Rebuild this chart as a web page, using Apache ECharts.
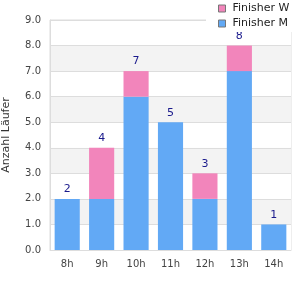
<!DOCTYPE html>
<html>
<head>
<meta charset="utf-8">
<script src="https://cdn.jsdelivr.net/npm/echarts@6/dist/echarts.min.js"></script>
<style>html,body{margin:0;padding:0;background:#fff}#chart{width:300px;height:300px}</style>
</head>
<body>
<div id="chart"></div>
<script>
var hours = ['8h', '9h', '10h', '11h', '12h', '13h', '14h'];
var finisherM = [2, 2, 6, 5, 2, 7, 1];
var finisherW = [0, 2, 1, 0, 1, 1, 0];

var chart = echarts.init(document.getElementById('chart'));

var option = {
    animation: false,
    textStyle: { fontFamily: 'DejaVu Sans' },
    legend: {
        left: 206,
        top: 0,
        orient: 'vertical',
        backgroundColor: '#fff',
        padding: [3, 20, 3, 12],
        itemGap: 4,
        itemWidth: 7,
        itemHeight: 7,
        icon: 'rect',
        itemStyle: { borderColor: '#777', borderWidth: 1 },
        textStyle: { fontSize: 11, color: '#222', fontFamily: 'DejaVu Sans', padding: [0, 0, 0, 2] },
        data: ['Finisher W', 'Finisher M'],
        z: 10
    },
    grid: {
        left: 50,
        right: 9,
        top: 20,
        bottom: 50,
        outerBoundsMode: 'none',
        containLabel: false,
        show: true,
        borderColor: '#ddd',
        borderWidth: 1
    },
    xAxis: {
        type: 'category',
        data: hours,
        axisLine: { lineStyle: { color: '#ddd' } },
        axisTick: { show: false },
        axisLabel: { color: '#444', fontSize: 10, margin: 9 }
    },
    yAxis: {
        type: 'value',
        min: 0,
        max: 9,
        interval: 1,
        name: 'Anzahl Läufer',
        nameLocation: 'middle',
        nameGap: 38,
        nameTextStyle: { color: '#333', fontSize: 11 },
        axisLine: { show: true, lineStyle: { color: '#ddd' } },
        axisTick: { show: false },
        axisLabel: {
            color: '#444',
            fontSize: 10,
            margin: 9,
            formatter: function (v) { return v.toFixed(1); }
        },
        splitLine: { lineStyle: { color: '#ddd' } },
        splitArea: { show: true, areaStyle: { color: ['#fff', '#f3f3f3'] } }
    },
    series: [
        {
            name: 'Finisher M',
            type: 'bar',
            stack: 'all',
            barWidth: '73%',
            itemStyle: { color: '#62a9f5' },
            data: finisherM
        },
        {
            name: 'Finisher W',
            type: 'bar',
            stack: 'all',
            barWidth: '73%',
            itemStyle: { color: '#f285bb' },
            label: {
                show: true,
                position: 'top',
                color: '#1a1a8c',
                fontSize: 11,
                distance: 4,
                formatter: function (p) {
                    return finisherM[p.dataIndex] + finisherW[p.dataIndex];
                }
            },
            data: finisherW
        }
    ]
};

chart.setOption(option);
</script>
</body>
</html>
